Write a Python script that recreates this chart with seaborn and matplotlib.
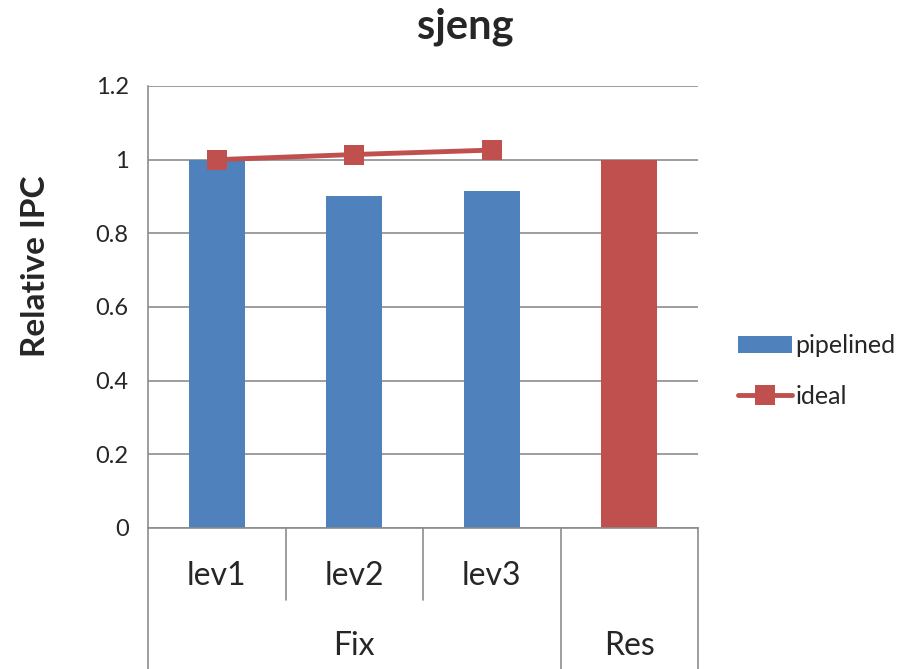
import numpy as np
import pandas as pd
import matplotlib
matplotlib.use("Agg")
import matplotlib.pyplot as plt
import matplotlib.transforms as mtransforms
from matplotlib.patches import Patch
from matplotlib.lines import Line2D
import seaborn as sns

# Data
categories = ["lev1", "lev2", "lev3", "Res"]
groups = ["Fix", "Fix", "Fix", "Res"]
pipelined = [1.0, 0.90, 0.915, 1.0]
ideal_categories = ["lev1", "lev2", "lev3"]
ideal = [1.0, 1.014, 1.026]
yticks = [0, 0.2, 0.4, 0.6, 0.8, 1.0, 1.2]
ytick_labels = ["0", "0.2", "0.4", "0.6", "0.8", "1", "1.2"]

BLUE = "#4F81BD"
RED = "#C0504D"
GRID = "#8C8C8C"

sns.set_style("white")
plt.rcParams["font.family"] = ["Lato", "DejaVu Sans"]

fig = plt.figure(figsize=(9.12, 6.69), dpi=100)
ax = fig.add_axes([148 / 912, 1 - 528 / 669, 550 / 912, 442 / 669])

df = pd.DataFrame({"cat": categories, "val": pipelined})
bar_colors = [BLUE, BLUE, BLUE, RED]
sns.barplot(data=df, x="cat", y="val", hue="cat", palette=bar_colors,
            order=categories, width=0.41, legend=False, ax=ax,
            saturation=1, edgecolor="none")

xpos = [categories.index(c) for c in ideal_categories]
sns.lineplot(x=xpos, y=ideal, ax=ax, color=RED, linewidth=3.5,
             marker="s", markersize=14, markeredgewidth=0, zorder=5)

ax.set_xlim(-0.5, 3.5)
ax.set_ylim(0, 1.2)
ax.set_yticks(yticks)
ax.set_yticklabels(ytick_labels, fontsize=17)
ax.yaxis.grid(True, color=GRID, linewidth=1.2)
ax.set_axisbelow(True)
ax.tick_params(axis="y", length=7, width=1.2, color=GRID, direction="out", pad=7)
ax.tick_params(axis="x", length=0)
ax.set_xticks([])
ax.set_xlabel("")
ax.set_ylabel("Relative IPC", fontsize=24, fontweight="bold")
ax.yaxis.label.set_verticalalignment("center")
ax.yaxis.set_label_coords((35 - 148) / 550, (528 - 266) / 442)

for side in ["top", "right"]:
    ax.spines[side].set_visible(False)
for side in ["left", "bottom"]:
    ax.spines[side].set_color(GRID)
    ax.spines[side].set_linewidth(1.2)

# Two-level category axis
trans = mtransforms.blended_transform_factory(ax.transData, fig.transFigure)
y_axis = 1 - 528 / 669
y_short = 1 - 600 / 669
y_long = 0.0
for b in [0.5, 1.5]:
    ax.add_line(Line2D([b, b], [y_axis, y_short], transform=trans, color=GRID,
                       linewidth=1.2, clip_on=False))
for b in [-0.5, 2.5, 3.5]:
    ax.add_line(Line2D([b, b], [y_axis, y_long], transform=trans, color=GRID,
                       linewidth=1.2, clip_on=False))

for i, c in enumerate(categories):
    if c in ideal_categories:
        ax.text(i, 1 - 576 / 669, c, transform=trans, ha="center", va="center",
                fontsize=23)

group_names = []
for g in groups:
    if g not in group_names:
        group_names.append(g)
for g in group_names:
    idx = [i for i, gg in enumerate(groups) if gg == g]
    ax.text(np.mean(idx), 1 - 646 / 669, g, transform=trans, ha="center",
            va="center", fontsize=23)

fig.text(465 / 912, 1 - 27 / 669, "sjeng", ha="center", va="center",
         fontsize=30, fontweight="bold")

handles = [
    Patch(facecolor=BLUE, edgecolor="none", label="pipelined"),
    Line2D([0], [0], color=RED, linewidth=3.5, marker="s", markersize=14,
           markeredgewidth=0, label="ideal"),
]
fig.legend(handles=handles, loc="center left",
           bbox_to_anchor=(738 / 912, 1 - 371 / 669), frameon=False,
           fontsize=18, handlelength=2.15, handleheight=0.72, handletextpad=0.15,
           labelspacing=1.1, borderpad=0.0, borderaxespad=0.0)

fig.savefig("out.png", dpi=100)
